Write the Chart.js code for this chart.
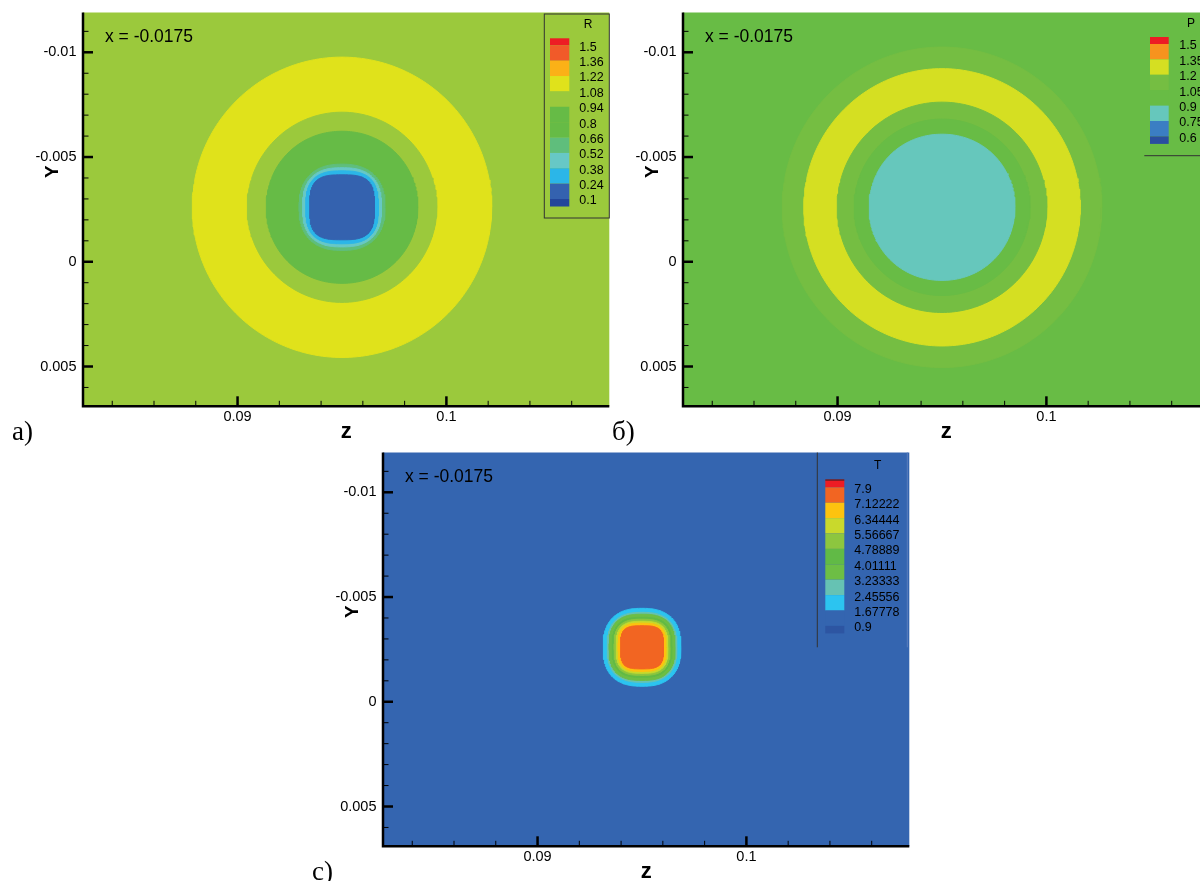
<!DOCTYPE html>
<html>
<head>
<meta charset="utf-8">
<script src="https://cdn.jsdelivr.net/npm/chart.js@4.4.1/dist/chart.umd.min.js"></script>
<style>
  html, body { margin: 0; padding: 0; background: #fff; overflow: hidden; }
  #page { position: relative; width: 1200px; height: 881px; overflow: hidden; }
  canvas { position: absolute; }
</style>
</head>
<body>
<div id="page">
  <canvas id="panelR" width="620" height="450" style="left:0;top:0"></canvas>
  <canvas id="panelP" width="620" height="450" style="left:600px;top:0"></canvas>
  <canvas id="panelT" width="620" height="450" style="left:300px;top:440px"></canvas>
</div>
<script>
// vortex core position, same in all three slices
const coreZ = 0.095;
const coreY = -0.0026;

const zRange = [0.0826, 0.1078];
const yRange = [-0.0119, 0.0069];
const zTicks = [0.09, 0.1];
const zTickLabels = ['0.09', '0.1'];
const yTicks = [-0.01, -0.005, 0, 0.005];
const yTickLabels = ['-0.01', '-0.005', '0', '0.005'];

// R : contour levels (legend), band colours top->bottom, contour lines outer->inner
const rLevels = ['1.5', '1.36', '1.22', '1.08', '0.94', '0.8', '0.66', '0.52', '0.38', '0.24', '0.1'];
const rColors = ['#ED1C24', '#F15A29', '#FBB117', '#E0E21B', '#9BC93C', '#66BB46', '#66BB46', '#5FBE7C', '#67C8C6', '#2BB6E8', '#3462AF', '#23469A'];
const rRadius = [0.00717, 0.00454, 0.00363, 0.00206, 0.00189, 0.00174, 0.00155];
const rBand = [3, 4, 5, 7, 8, 9, 10];
const rShape = [2, 2, 2.05, 2.4, 2.6, 2.8, 3.2];

// P
const pLevels = ['1.5', '1.35', '1.2', '1.05', '0.9', '0.75', '0.6'];
const pColors = ['#ED1C24', '#F7931E', '#D5DF22', '#75BE42', '#68BC45', '#66C7BC', '#3B7EC3', '#2A4E9F'];
const pRadius = [0.00765, 0.00662, 0.00502, 0.00421, 0.00349];
const pBand = [3, 2, 3, 4, 5];
const pShape = [2, 2, 2, 2, 2.05];

// T
const tLevels = ['7.9', '7.12222', '6.34444', '5.56667', '4.78889', '4.01111', '3.23333', '2.45556', '1.67778', '0.9'];
const tColors = ['#ED1C24', '#F26522', '#FDC30F', '#C9D92C', '#8DC63F', '#61BA46', '#6DBE45', '#66C2B3', '#2CC4F0', '#3465B0', '#2D55A2'];
const tRadius = [0.00186, 0.00167, 0.00158, 0.00143, 0.00134, 0.00124, 0.00115, 0.00103];
const tBand = [8, 7, 6, 5, 4, 3, 2, 1];
const tShape = [2.5, 2.6, 2.7, 2.8, 2.9, 3.0, 3.1, 3.4];

const SANS = '"Liberation Sans", Arial, sans-serif';
const SERIF = '"Liberation Serif", "Times New Roman", serif';

function ringPoints(radius, power) {
    var pts = [];
    for (let k = 0; k <= 240; k++) {
        var t = 2 * Math.PI * k / 240;
        var c = Math.cos(t), s = Math.sin(t);
        pts.push({
            x: coreZ + radius * Math.sign(c) * Math.pow(Math.abs(c), 2 / power),
            y: coreY + radius * Math.sign(s) * Math.pow(Math.abs(s), 2 / power)
        });
    }
    return pts;
}

function framePlugin(p) {
    return {
        id: 'frame',
        beforeDatasetsDraw(chart) {
            var ctx = chart.ctx, a = chart.chartArea;
            ctx.save();
            ctx.fillStyle = p.colors[p.background];
            ctx.fillRect(a.left, a.top, a.right - a.left, a.bottom - a.top);
            ctx.restore();
        },
        afterDatasetsDraw(chart) {
            var ctx = chart.ctx, a = chart.chartArea;
            var xs = chart.scales.x, ys = chart.scales.y;
            ctx.save();

            // legend (colour bar)
            var lg = p.legend;
            var n = p.levels.length;
            var ly = i => lg.y0 + lg.step * i;
            for (let k = 0; k <= n; k++) {
                var top = k == 0 ? ly(0) - 9 : ly(k - 1) - 2;
                var bot = k == n ? ly(n - 1) + 5.5 : ly(k) - 2;
                ctx.fillStyle = p.colors[k];
                ctx.fillRect(lg.sx, top, lg.sw, bot - top);
            }
            if (lg.darkTop) {
                ctx.fillStyle = '#7A1A1A';
                ctx.fillRect(lg.sx, ly(0) - 10, lg.sw, 1.5);
            }
            ctx.fillStyle = '#000';
            ctx.font = '12.5px ' + SANS;
            ctx.textAlign = 'left';
            ctx.textBaseline = 'middle';
            p.levels.forEach((lab, i) => ctx.fillText(lab, lg.lx, ly(i)));
            ctx.textAlign = 'center';
            ctx.font = '12px ' + SANS;
            ctx.fillText(p.title, lg.tx, lg.ty);

            ctx.strokeStyle = '#333';
            ctx.lineWidth = 1;
            if (lg.frame == 'box') {
                ctx.strokeRect(lg.bx, 14, a.right - lg.bx, 204);
            } else if (lg.frame == 'bottom') {
                ctx.beginPath();
                ctx.moveTo(lg.bx, 155.7);
                ctx.lineTo(620, 155.7);
                ctx.stroke();
            } else {
                ctx.beginPath();
                ctx.moveTo(lg.bx, a.top);
                ctx.lineTo(lg.bx, 207.3);
                ctx.stroke();
                ctx.strokeStyle = '#5C7FBE';
                ctx.beginPath();
                ctx.moveTo(607.3, a.top);
                ctx.lineTo(607.3, 207.3);
                ctx.stroke();
            }

            // slice label
            ctx.fillStyle = '#000';
            ctx.font = '17.5px ' + SANS;
            ctx.textAlign = 'left';
            ctx.fillText('x = -0.0175', a.left + 22, a.top + 25);

            // axes, ticks inside
            ctx.strokeStyle = '#000';
            ctx.lineWidth = 1;
            for (let v = Math.ceil(yRange[0] / 0.001); v <= Math.floor(yRange[1] / 0.001); v++) {
                var py = ys.getPixelForValue(v * 0.001);
                ctx.beginPath();
                ctx.moveTo(a.left, py);
                ctx.lineTo(a.left + 5.5, py);
                ctx.stroke();
            }
            for (let v = Math.ceil(zRange[0] / 0.002); v <= Math.floor(zRange[1] / 0.002); v++) {
                var px = xs.getPixelForValue(v * 0.002);
                ctx.beginPath();
                ctx.moveTo(px, a.bottom);
                ctx.lineTo(px, a.bottom - 5.5);
                ctx.stroke();
            }
            ctx.lineWidth = 2.5;
            yTicks.forEach(v => {
                var py = ys.getPixelForValue(v);
                ctx.beginPath();
                ctx.moveTo(a.left, py);
                ctx.lineTo(a.left + 10, py);
                ctx.stroke();
            });
            zTicks.forEach(v => {
                var px = xs.getPixelForValue(v);
                ctx.beginPath();
                ctx.moveTo(px, a.bottom);
                ctx.lineTo(px, a.bottom - 10);
                ctx.stroke();
            });
            ctx.beginPath();
            ctx.moveTo(a.left, a.top);
            ctx.lineTo(a.left, a.bottom);
            ctx.lineTo(a.right, a.bottom);
            ctx.stroke();

            ctx.font = '14.5px ' + SANS;
            ctx.textAlign = 'right';
            ctx.textBaseline = 'middle';
            yTicks.forEach((v, i) => ctx.fillText(yTickLabels[i], a.left - 6.5, ys.getPixelForValue(v)));
            ctx.textAlign = 'center';
            zTicks.forEach((v, i) => ctx.fillText(zTickLabels[i], xs.getPixelForValue(v), a.bottom + 11));

            // axis titles
            ctx.font = 'bold 22px ' + SANS;
            ctx.fillText('z', (a.left + a.right) / 2, a.bottom + 26);
            ctx.save();
            ctx.translate(52.5, 171.7);
            ctx.rotate(-Math.PI / 2);
            ctx.font = 'bold 19px ' + SANS;
            ctx.fillText('Y', 0, 0);
            ctx.restore();

            // panel letter
            ctx.font = '27px ' + SERIF;
            ctx.textAlign = 'left';
            ctx.textBaseline = 'alphabetic';
            ctx.fillText(p.letter, 12, 440);
            ctx.restore();
        }
    };
}

function makePanel(id, p) {
    var datasets = p.radius.map((r, i) => ({
        data: ringPoints(r, p.shape[i]),
        fill: 'shape',
        backgroundColor: p.colors[p.band[i]],
        borderColor: p.colors[p.band[i]],
        borderWidth: 1,
        pointRadius: 0,
        tension: 0,
        order: p.radius.length - i
    }));
    return new Chart(document.getElementById(id), {
        type: 'line',
        data: { datasets: datasets },
        options: {
            responsive: false,
            animation: false,
            devicePixelRatio: 1,
            events: [],
            layout: { padding: { left: 83, top: 12.5, right: 10.7, bottom: 43.7 } },
            scales: {
                x: { type: 'linear', min: zRange[0], max: zRange[1], display: false },
                y: { type: 'linear', min: yRange[0], max: yRange[1], reverse: true, display: false }
            },
            plugins: {
                legend: { display: false },
                tooltip: { enabled: false }
            }
        },
        plugins: [framePlugin(p)]
    });
}

makePanel('panelR', {
    levels: rLevels, colors: rColors, radius: rRadius, band: rBand, shape: rShape,
    background: 4, title: 'R', letter: 'a)',
    legend: { frame: 'box', bx: 544.3, sx: 550, sw: 19.3, lx: 579.3, tx: 588, ty: 25, y0: 47.3, step: 15.37 }
});

makePanel('panelP', {
    levels: pLevels, colors: pColors, radius: pRadius, band: pBand, shape: pShape,
    background: 4, title: 'P', letter: 'б)',
    legend: { frame: 'bottom', bx: 544.3, sx: 550, sw: 18.7, lx: 579.3, tx: 591, ty: 23.3, y0: 46, step: 15.4 }
});

makePanel('panelT', {
    levels: tLevels, colors: tColors, radius: tRadius, band: tBand, shape: tShape,
    background: 9, title: 'T', letter: 'c)',
    legend: { frame: 'left', bx: 517.3, sx: 525.3, sw: 19, lx: 554.3, tx: 577.7, ty: 26, y0: 49.3, step: 15.4, darkTop: true }
});
</script>
</body>
</html>
